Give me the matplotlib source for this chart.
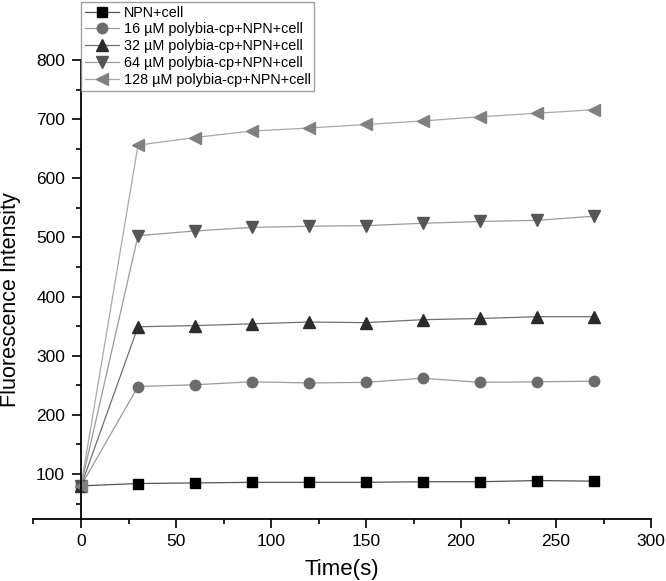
import matplotlib
matplotlib.use("Agg")
import matplotlib.pyplot as plt
from matplotlib.ticker import MultipleLocator

plt.rcParams['font.family'] = ['Liberation Sans', 'DejaVu Sans']

time_s = [0, 30, 60, 90, 120, 150, 180, 210, 240, 270]
npn_cell = [80, 84, 85, 86, 86, 86, 87, 87, 89, 88]
c16 = [80, 248, 251, 256, 254, 255, 262, 255, 256, 257]
c32 = [80, 349, 351, 354, 357, 356, 361, 363, 366, 366]
c64 = [80, 503, 511, 517, 519, 520, 524, 527, 529, 536]
c128 = [80, 656, 669, 680, 685, 691, 697, 704, 710, 716]

labels = ['NPN+cell',
          '16 \u00b5M polybia-cp+NPN+cell',
          '32 \u00b5M polybia-cp+NPN+cell',
          '64 \u00b5M polybia-cp+NPN+cell',
          '128 \u00b5M polybia-cp+NPN+cell']
series = [npn_cell, c16, c32, c64, c128]
markers = ['s', 'o', '^', 'v', '<']
mcolors = ['#000000', '#6b6b6b', '#2b2b2b', '#555555', '#808080']
lcolors = ['#555555', '#9a9a9a', '#707070', '#9a9a9a', '#a8a8a8']
msizes = [7.5, 7.5, 8.5, 8.5, 8.5]

fig = plt.figure(figsize=(6.66, 5.81), dpi=100)
ax = fig.add_axes([0.0503, 0.1067, 0.9272, 0.79])

for y, lab, m, mc, lc, ms in zip(series, labels, markers, mcolors, lcolors, msizes):
    ax.plot(time_s, y, color=lc, lw=0.9, marker=m, markersize=ms,
            markerfacecolor=mc, markeredgecolor=mc, label=lab)

ax.set_xlim(-25, 300)
ax.set_ylim(24, 800)
ax.spines['top'].set_visible(False)
ax.spines['right'].set_visible(False)
ax.spines['left'].set_position(('data', 0))
ax.spines['left'].set_linewidth(1.3)
ax.spines['bottom'].set_linewidth(1.3)

ax.xaxis.set_major_locator(MultipleLocator(50))
ax.xaxis.set_minor_locator(MultipleLocator(25))
ax.yaxis.set_major_locator(MultipleLocator(100))
ax.yaxis.set_minor_locator(MultipleLocator(50))
ax.set_yticks([100, 200, 300, 400, 500, 600, 700, 800])
ax.tick_params(which='major', direction='out', length=6.5, width=1.2, labelsize=12.5)
ax.tick_params(which='minor', direction='out', length=3.5, width=1.2)
ax.tick_params(axis='x', pad=4)
ax.tick_params(axis='y', pad=5)

ax.set_xlabel('Time(s)', fontsize=16, family=['Liberation Sans Narrow', 'Liberation Sans'])
ax.xaxis.set_label_coords(0.5, -0.087)
ax.set_ylabel('Fluorescence Intensity', fontsize=15.5)
ax.yaxis.set_label_coords(-0.02, 0.478)

leg = ax.legend(loc='upper left', bbox_to_anchor=(81 / 666, 1 - 2 / 581),
                bbox_transform=fig.transFigure, fontsize=10.4, frameon=True,
                fancybox=False, handlelength=2.4, handletextpad=0.3,
                labelspacing=0.2, borderpad=0.25, borderaxespad=0)
leg.get_frame().set_edgecolor('#888888')
leg.get_frame().set_linewidth(1.0)

fig.savefig('out.png', dpi=100)
